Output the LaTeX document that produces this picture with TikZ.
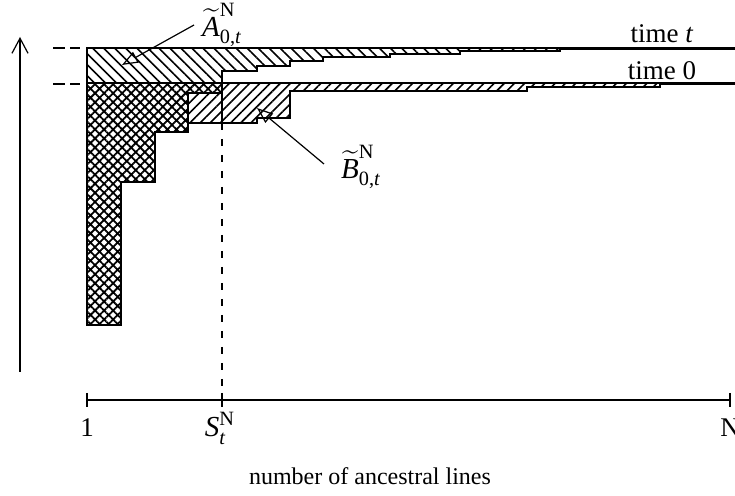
\documentclass[tikz,border=0pt]{standalone}
\usepackage{amsmath}
\usepackage{fontspec}
\setmainfont{Liberation Serif}
\usetikzlibrary{patterns.meta,arrows.meta}
\begin{document}
\begin{tikzpicture}[x=0.5pt,y=-0.5pt,
  outl/.style={line width=1pt,line join=miter},
  hatchA/.style={pattern={Lines[angle=-45,distance=3.9pt,line width=0.8pt]}},
  hatchB/.style={pattern={Lines[angle=45,distance=3.6pt,line width=0.8pt]}},
  hatchX/.style={pattern={Hatch[angle=45,distance=3.2pt,line width=0.9pt]}},
  lbl/.style={inner sep=0pt,font=\fontsize{13.5}{16}\selectfont},
  mlbl/.style={inner sep=0pt,font=\fontsize{14.5}{17}\selectfont},
  ptr/.style={line width=0.6pt,-{Triangle[open,length=8pt,width=6pt]}},
  guide/.style={line width=0.6pt,dash pattern=on 6pt off 2.5pt},
  sline/.style={line width=0.6pt,dash pattern=on 3.5pt off 4.5pt},
]
\useasboundingbox (0,0) rectangle (735,496);
% A only
\fill[hatchA] (87,48) -- (735,48) -- (735,49) -- (560,49) -- (560,51.5) -- (460,51.5) -- (460,54.5)
  -- (390,54.5) -- (390,57) -- (323,57) -- (323,61.5) -- (290,61.5) -- (290,66.5) -- (257,66.5)
  -- (257,71.5) -- (222,71.5) -- (222,83.5) -- (87,83.5) -- cycle;
% crosshatch
\fill[hatchX] (87,83.5) -- (222,83.5) -- (222,93) -- (188,93) -- (188,132) -- (155,132) -- (155,182)
  -- (121,182) -- (121,325) -- (87,325) -- cycle;
% B only
\fill[hatchB] (188,93) -- (222,93) -- (222,83.5) -- (735,83.5) -- (735,84.5) -- (660,84.5) -- (660,87)
  -- (527,87) -- (527,91.5) -- (290,91.5) -- (290,118) -- (257,118) -- (257,123) -- (188,123) -- cycle;
% outlines
\draw[outl] (87,48) -- (735,48) -- (735,49) -- (560,49) -- (560,51.5) -- (460,51.5) -- (460,54.5)
  -- (390,54.5) -- (390,57) -- (323,57) -- (323,61.5) -- (290,61.5) -- (290,66.5) -- (257,66.5)
  -- (257,71.5) -- (222,71.5) -- (222,93) -- (188,93) -- (188,132) -- (155,132) -- (155,182)
  -- (121,182) -- (121,325) -- (87,325) -- cycle;
\draw[outl] (87,83.5) -- (735,83.5) -- (735,84.5) -- (660,84.5) -- (660,87) -- (527,87) -- (527,91.5)
  -- (290,91.5) -- (290,118) -- (257,118) -- (257,123) -- (188,123);
\draw[line width=0.6pt] (222,93) -- (222,123);
% guides
\draw[guide] (53,48) -- (80,48);
\draw[guide] (53,84) -- (80,84);
% vertical arrow
\coordinate (vbot) at (20,372);
\coordinate (vtop) at (20,37);
\draw[line width=0.6pt,-{Straight Barb[length=7.5pt,width=8pt]}] (vbot) -- (vtop);
% axis
\coordinate (a1) at (87,400);
\coordinate (aS) at (222,400);
\coordinate (aN) at (730,400);
\draw[line width=0.6pt] (a1) -- (aN);
\draw[line width=0.6pt] (87,393) -- (87,407);
\draw[line width=0.6pt] (222,393) -- (222,407);
\draw[line width=0.6pt] (730,393) -- (730,407);
\draw[sline] (222,123) -- (aS);
% labels
\node[lbl,anchor=base] (tt) at (662,43) {time \textit{t}};
\node[lbl,anchor=base] (t0) at (662,80) {time 0};
\node[mlbl] (la) at (222,25) {$\widetilde{\text{\itshape A}}^{\text{N}}_{\text{0,\itshape t}}$};
\node[mlbl] (lb) at (361,167) {$\widetilde{\text{\itshape B}}^{\text{N}}_{\text{0,\itshape t}}$};
\node[lbl,anchor=base] (n1) at (87,437) {1};
\node[mlbl,anchor=base] (nS) at (220,437) {$\text{\itshape S}^{\text{N}}_{\text{\itshape t}}$};
\node[lbl,anchor=base] (nN) at (730,437) {N};
\node[font=\fontsize{12}{14}\selectfont,inner sep=0pt] (xl) at (370,476) {number of ancestral lines};
% pointers
\coordinate (pa) at (122,65);
\coordinate (pb) at (257,108);
\coordinate (sa) at (194,25);
\coordinate (sb) at (324,164);
\draw[ptr] (sa) -- (pa);
\draw[ptr] (sb) -- (pb);
\end{tikzpicture}
\end{document}
